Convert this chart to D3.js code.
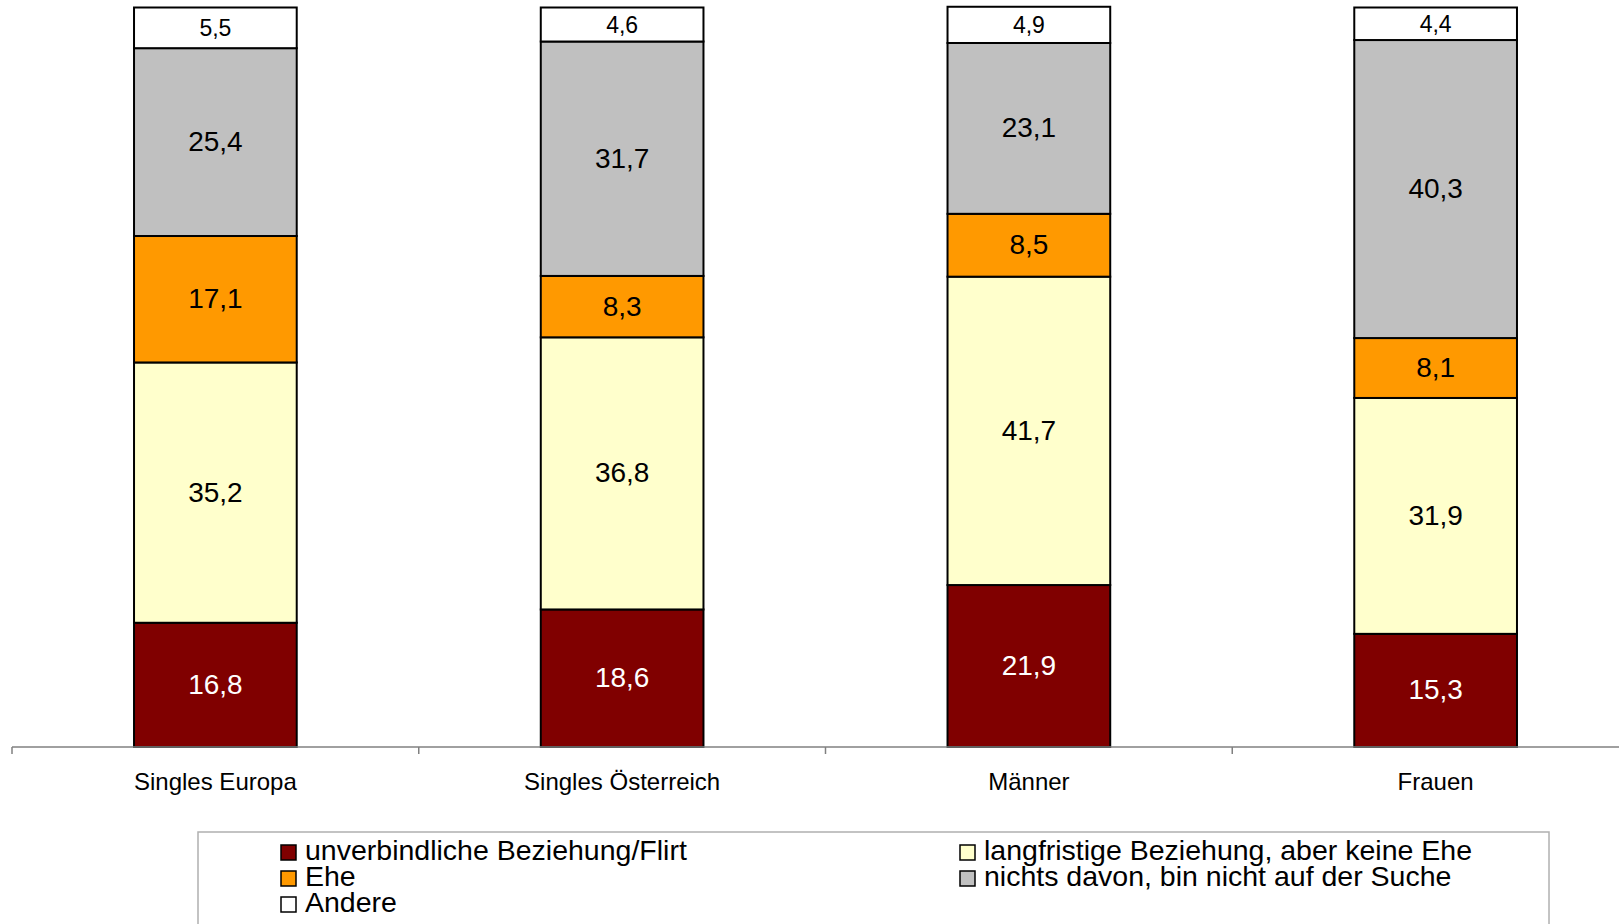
<!DOCTYPE html>
<html>
<head>
<meta charset="utf-8">
<script src="https://cdn.jsdelivr.net/npm/d3@7"></script>
<style>
body{margin:0;background:#fff;}
svg{display:block;font-family:"Liberation Sans",Arial,sans-serif;}
</style>
</head>
<body>
<svg id="chart" width="1619" height="924"></svg>
<script>
// ---data---
var categories=["Singles Europa","Singles Österreich","Männer","Frauen"]
var seriesNames=["unverbindliche Beziehung/Flirt","langfristige Beziehung, aber keine Ehe","Ehe","nichts davon, bin nicht auf der Suche","Andere"]
var flirt=[16.8,18.6,21.9,15.3]
var langfristig=[35.2,36.8,41.7,31.9]
var ehe=[17.1,8.3,8.5,8.1]
var nichts=[25.4,31.7,23.1,40.3]
var andere=[5.5,4.6,4.9,4.4]
var seriesValues=[flirt,langfristig,ehe,nichts,andere]
var seriesColors=["#800000","#FFFFCC","#FF9900","#C0C0C0","#FFFFFF"]
var labelColors=["#fff","#000","#000","#000","#000"]

var svg=d3.select("#chart")

var axisY=747
var xScale=d3.scaleBand()
    .domain(categories)
    .range([12,1639])
    .paddingInner(0)
    .paddingOuter(0)

var yScale=d3.scaleLinear().domain([0,100]).range([axisY,7.5])

var barW=xScale.bandwidth()*0.4

// build stacked table
var table=categories.map(function(c,i){
    var row={cat:c}
    seriesNames.forEach(function(s,k){row[s]=seriesValues[k][i]})
    return row
})
var stack=d3.stack().keys(seriesNames)
var layers=stack(table)

var chartG=svg.append("g")

layers.forEach(function(layer,k){
    var g=chartG.append("g")
    g.selectAll("rect")
    .data(layer)
    .enter().append("rect")
    .attr("x",function(d){return xScale(d.data.cat)+xScale.bandwidth()/2-barW/2})
    .attr("y",function(d){return yScale(d[1])})
    .attr("width",barW)
    .attr("height",function(d){return yScale(d[0])-yScale(d[1])})
    .attr("fill",seriesColors[k])
    .attr("stroke","#000")
    .attr("stroke-width",2)
})

// ---segment labels---
layers.forEach(function(layer,k){
    layer.forEach(function(d){
        var v=d[1]-d[0]
        var cx=xScale(d.data.cat)+xScale.bandwidth()/2
        var cy=(yScale(d[0])+yScale(d[1]))/2
        var small=v<6
        chartG.append("text")
        .attr("x",cx)
        .attr("y",cy)
        .attr("dy",small?".36em":".32em")
        .attr("text-anchor","middle")
        .attr("font-size",small?"23px":"28px")
        .attr("fill",labelColors[k])
        .text(d3.format(".1f")(v).replace(".",","))
    })
})

// ---x axis---
var axisG=svg.append("g").attr("stroke","#808080").attr("stroke-width",1.5)
axisG.append("line")
    .attr("x1",12).attr("x2",1619)
    .attr("y1",axisY).attr("y2",axisY)
axisG.selectAll(".tick")
    .data(categories)
    .enter().append("line")
    .attr("x1",function(d){return xScale(d)})
    .attr("x2",function(d){return xScale(d)})
    .attr("y1",axisY).attr("y2",axisY+7)

svg.selectAll(".catLabel")
    .data(categories)
    .enter().append("text")
    .attr("class","catLabel")
    .attr("x",function(d){return xScale(d)+xScale.bandwidth()/2})
    .attr("y",790)
    .attr("text-anchor","middle")
    .attr("font-size","24px")
    .attr("fill","#000")
    .text(function(d){return d})

// ---legend---
var legendG=svg.append("g")
legendG.append("rect")
    .attr("x",198).attr("y",832)
    .attr("width",1351).attr("height",120)
    .attr("fill","#fff")
    .attr("stroke","#b0b0b0")
    .attr("stroke-width",1.5)

// order in legend: col1 flirt, ehe, andere ; col2 langfristig, nichts
var legendPos=[[281,0],[960,0],[281,1],[960,1],[281,2]]
seriesNames.forEach(function(s,k){
    var lx=legendPos[k][0], ly=845+legendPos[k][1]*26
    legendG.append("rect")
    .attr("x",lx).attr("y",ly)
    .attr("width",15).attr("height",15)
    .attr("fill",seriesColors[k])
    .attr("stroke","#000")
    .attr("stroke-width",1.5)
    legendG.append("text")
    .attr("x",lx+24).attr("y",ly+15)
    .attr("font-size","28.5px")
    .attr("fill","#000")
    .text(s)
})
</script>
</body>
</html>
